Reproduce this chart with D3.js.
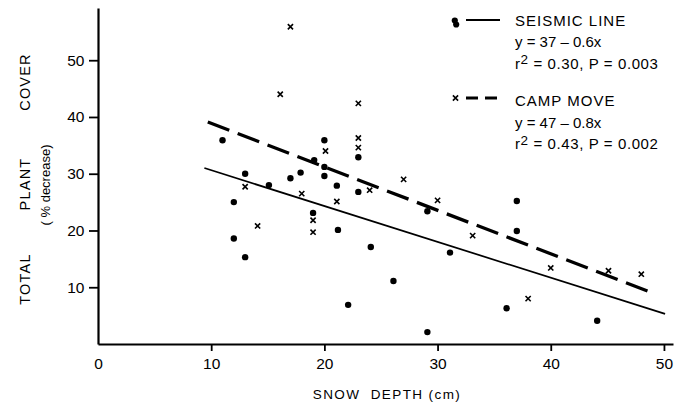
<!DOCTYPE html>
<html><head><meta charset="utf-8">
<script src="https://cdn.jsdelivr.net/npm/d3@7"></script>
<style>
html,body{margin:0;padding:0;background:#fff;}
svg{display:block;font-family:"Liberation Sans",Arial,Helvetica,sans-serif;}
</style></head>
<body><svg id="c" width="685" height="406"></svg>
<script>
// ---- data ----
const seismicX = [11.0,12.0,12.0,13.0,13.0,15.1,17.0,17.9,19.1,19.0,20.0,20.0,20.0,21.1,21.2,22.1,23.0,23.0,24.1,26.1,29.1,29.1,31.1,36.1,37.0,37.0,44.1];
const seismicY = [35.9,25.0,18.6,30.0,15.3,28.0,29.2,30.2,32.4,23.1,35.9,31.2,29.6,27.9,20.1,6.9,32.9,26.8,17.1,11.1,23.4,2.1,16.1,6.3,25.2,19.9,4.1];
const campX = [13.0,14.1,16.1,17.0,18.0,19.0,19.0,20.1,21.1,23.0,23.0,23.0,24.0,27.0,30.0,33.1,38.0,40.0,45.1,48.0];
const campY = [27.7,20.8,44.0,55.9,26.5,21.8,19.7,34.0,25.1,42.4,36.3,34.6,27.1,29.0,25.3,19.1,8.0,13.4,12.9,12.3];
const seismicFitX = [9.4, 50.1];
const seismicFitY = [31.0, 5.3];
const campFitX = [9.7, 49.0];
const campFitY = [39.1, 9.0];
const xTicks = [0,10,20,30,40,50];
const yTicks = [10,20,30,40,50];
const legendSeismic = ["SEISMIC LINE", "y = 37 \u2013 0.6x", ["r","2"," = 0.30, P = 0.003"]];
const legendCamp = ["CAMP MOVE", "y = 47 \u2013 0.8x", ["r","2"," = 0.43, P = 0.002"]];
const xTitle = "SNOW  DEPTH (cm)";
const yTitleWords = ["TOTAL","PLANT","COVER"];
const ySubTitle = "( % decrease)";

// ---- chart ----
const svg = d3.select("#c");
const x = d3.scaleLinear().domain([0,50.8]).range([98,673]);
const y = d3.scaleLinear().domain([0,59.2]).range([344,8]);

// axes
const gx = svg.append("g").attr("transform","translate(0,344)")
  .call(d3.axisBottom(x).tickValues(xTicks).tickSize(7).tickPadding(7.3).tickSizeOuter(0));
gx.selectAll(".tick").filter(d=>d===0).select("line").remove();
const gy = svg.append("g").attr("transform","translate(98,0)")
  .call(d3.axisLeft(y).tickValues(yTicks).tickSize(9).tickPadding(4.5).tickSizeOuter(0));
[gx,gy].forEach(g=>{
  g.select(".domain").attr("stroke","#000").attr("stroke-width",2.2);
  g.selectAll(".tick line").attr("stroke","#000").attr("stroke-width",1.8);
  g.selectAll(".tick text").attr("fill","#000").style("font-size","15.5px")
    .style("font-family",'"Liberation Sans",Arial,sans-serif');
});

// regression lines
const line = d3.line().x(d=>x(d[0])).y(d=>y(d[1]));
svg.append("path").datum(seismicFitX.map((v,i)=>[v,seismicFitY[i]]))
  .attr("d",line).attr("fill","none").attr("stroke","#000").attr("stroke-width",1.7);
svg.append("path").datum(campFitX.map((v,i)=>[v,campFitY[i]]))
  .attr("d",line).attr("fill","none").attr("stroke","#000").attr("stroke-width",3.3)
  .attr("stroke-dasharray","23,9");

// points
svg.append("g").selectAll("circle").data(seismicX.map((v,i)=>[v,seismicY[i]])).join("circle")
  .attr("cx",d=>x(d[0])).attr("cy",d=>y(d[1])).attr("r",3.2).attr("fill","#000");
const s = 2.6;
svg.append("g").selectAll("path").data(campX.map((v,i)=>[v,campY[i]])).join("path")
  .attr("d",`M${-s},${-s}L${s},${s}M${-s},${s}L${s},${-s}`)
  .attr("transform",d=>`translate(${x(d[0])},${y(d[1])})`)
  .attr("stroke","#000").attr("stroke-width",1.6).attr("fill","none");

// legend
const lg = svg.append("g");
lg.append("circle").attr("cx",454.8).attr("cy",20.5).attr("r",3.1).attr("fill","#000");
lg.append("circle").attr("cx",456.2).attr("cy",24.5).attr("r",3.1).attr("fill","#000");
lg.append("line").attr("x1",466).attr("x2",500).attr("y1",20).attr("y2",20).attr("stroke","#000").attr("stroke-width",1.8);
lg.append("path").attr("d",`M${-s},${-s}L${s},${s}M${-s},${s}L${s},${-s}`)
  .attr("transform","translate(455.5,98)").attr("stroke","#000").attr("stroke-width",1.6);
lg.append("line").attr("x1",466).attr("x2",501).attr("y1",98).attr("y2",98).attr("stroke","#000").attr("stroke-width",3.2).attr("stroke-dasharray","12,7");

function legendBlock(lines, base){
  lg.append("text").attr("x",515).attr("y",base).style("font-size","15px").style("letter-spacing","1px").text(lines[0]);
  lg.append("text").attr("x",515).attr("y",base+21.5).style("font-size","15px").text(lines[1]);
  const t3 = lg.append("text").attr("x",515).attr("y",base+43).style("font-size","15px").style("letter-spacing","0.6px");
  t3.append("tspan").text(lines[2][0]);
  t3.append("tspan").attr("dy",-4.5).style("font-size","13.5px").text(lines[2][1]);
  t3.append("tspan").attr("dy",4.5).text(lines[2][2]);
}
legendBlock(legendSeismic, 25.5);
legendBlock(legendCamp, 106);

// axis titles
svg.append("text").attr("x",387).attr("y",399).attr("text-anchor","middle")
  .style("font-size","13.5px").style("letter-spacing","1.4px").style("white-space","pre")
  .attr("xml:space","preserve").text(xTitle);
const yCenters = [279, 184, 82];
yTitleWords.forEach((w,i)=>{
  svg.append("text").attr("transform",`translate(30,${yCenters[i]}) rotate(-90)`)
    .attr("text-anchor","middle").style("font-size","14.5px").style("letter-spacing","1.2px").text(w);
});
svg.append("text").attr("transform","translate(50,185) rotate(-90)")
  .attr("text-anchor","middle").style("font-size","13px").text(ySubTitle);
</script></body></html>
